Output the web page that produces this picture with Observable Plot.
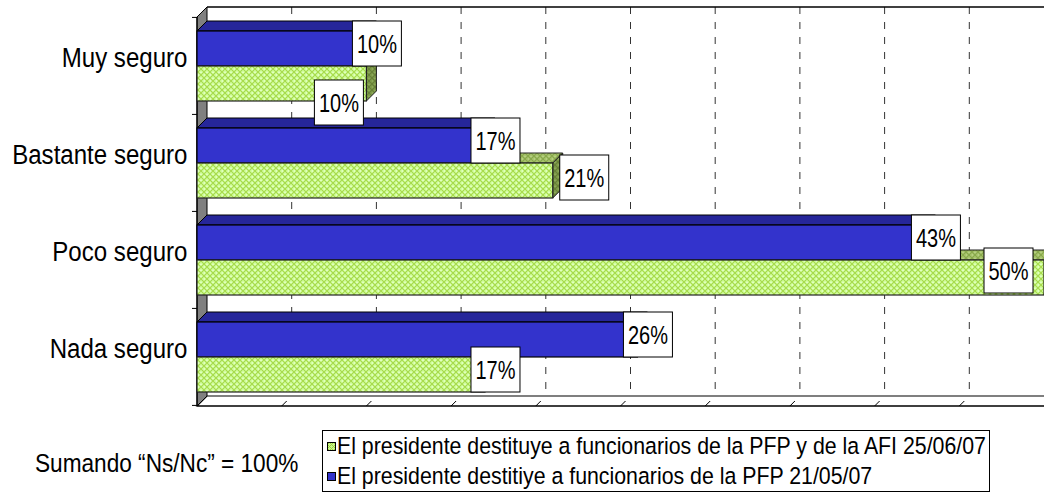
<!DOCTYPE html>
<html>
<head>
<meta charset="utf-8">
<script src="https://cdn.jsdelivr.net/npm/d3@7"></script>
<script src="https://cdn.jsdelivr.net/npm/@observablehq/plot@0.6"></script>
<style>
  body { margin: 0; background: #fff; font-family: Arial, "Liberation Sans", sans-serif; }
  #wrap { position: relative; width: 1044px; height: 496px; overflow: hidden; background: #fff; }
  #chart svg { display: block; }
  #footer { position: relative; width: 1044px; height: 76px; }
  .cond { display: inline-block; white-space: nowrap; transform: scaleX(0.87); transform-origin: 0 50%; }
</style>
</head>
<body>
<div id="wrap">
  <div id="chart"></div>
  <div id="footer"></div>
</div>
<script>
// ---------- data ----------
const categories = ["Muy seguro", "Bastante seguro", "Poco seguro", "Nada seguro"];
const seriesNames = [
  "El presidente destituye a funcionarios de la PFP y de la AFI 25/06/07",
  "El presidente destitiye a funcionarios de la PFP 21/05/07"
];
const valuesJun = [10, 21, 50, 17];   // 25/06/07 (green)
const valuesMay = [10, 17, 43, 26];   // 21/05/07 (blue)
const gridValues = [5, 10, 15, 20, 25, 30, 35, 40, 45, 50];
const noteText = "Sumando \u201CNs/Nc\u201D = 100%";

const mayRows = categories.map((c, i) => ({cat: c, value: valuesMay[i], label: valuesMay[i] + "%"}));
const junRows = categories.map((c, i) => ({cat: c, value: valuesJun[i], label: valuesJun[i] + "%"}));

// ---------- layout ----------
const W = 1044, H = 420;
const mL = 197, mR = 0, mT = 17, mB = 14;
const D = 10;                       // 3D depth offset
const padIn = 0.28, padOut = 0.14;
const STEP = (H - mT - mB) / (categories.length - padIn + 2 * padOut);
const BW = STEP * (1 - padIn);
const HALF = BW / 2;
const COND = 0.86;                  // horizontal condensation of the axis text
const COND_LABEL = 0.8;             // condensation of value labels
const BLUE = "#3333cc", BLUE_TOP = "#26269a", BLUE_SIDE = "#1c1c80";
// label nudges for the green series (Excel placed them individually)
const greenLabelShift = [[-38, 24], [21, 2], [-46, -2], [0, 0]];

function bandwidthOf(y) {
  const b = typeof y.bandwidth === "function" ? y.bandwidth() : y.bandwidth;
  return b == null || isNaN(b) ? BW : b;
}

// walls, floor, grid
function frameMark(index, scales, values, dims) {
  const {x, y} = scales;
  const g = d3.create("svg:g");
  const x0 = x(0), xR = W - mR + 20, yT = mT, yB = H - mB;
  g.append("path")
    .attr("d", `M${x0},${yB}L${x0 + D},${yB - D}L${xR},${yB - D}L${xR},${yB}Z`)
    .attr("fill", "#fff").attr("stroke", "#000").attr("stroke-width", 1.2);
  g.append("path")
    .attr("d", `M${x0},${yT}L${x0 + D},${yT - D}L${x0 + D},${yB - D}L${x0},${yB}Z`)
    .attr("fill", "#808080").attr("stroke", "#000").attr("stroke-width", 1);
  for (const v of gridValues) {
    const gx = x(v) + D;
    g.append("line").attr("x1", gx).attr("x2", gx).attr("y1", yT - D).attr("y2", yB - D)
      .attr("stroke", "#333").attr("stroke-width", 1).attr("stroke-dasharray", "7,8");
    g.append("line").attr("x1", x(v)).attr("x2", x(v) + 5).attr("y1", yB).attr("y2", yB - 5)
      .attr("stroke", "#000").attr("stroke-width", 1);
  }
  g.append("line").attr("x1", x0 + D).attr("x2", xR).attr("y1", yT - D).attr("y2", yT - D)
    .attr("stroke", "#000").attr("stroke-width", 1.5);
  const first = y(categories[0]);
  const step = categories.length > 1 ? y(categories[1]) - first : STEP;
  const start = first - padOut * step;
  for (let i = 0; i <= categories.length; i++) {
    const ty = start + i * step;
    g.append("line").attr("x1", x0 - 5).attr("x2", x0).attr("y1", ty).attr("y2", ty)
      .attr("stroke", "#000").attr("stroke-width", 1);
  }
  g.append("line").attr("x1", x0).attr("x2", x0).attr("y1", yT).attr("y2", yB)
    .attr("stroke", "#000").attr("stroke-width", 1.2);
  g.append("line").attr("x1", x0).attr("x2", xR).attr("y1", yB).attr("y2", yB)
    .attr("stroke", "#000").attr("stroke-width", 1.2);
  return g.node();
}

// top and side faces of the 3D bars
function facesMark(rows, lower, topFill, sideFill, stroke) {
  return (index, scales) => {
    const {x, y} = scales;
    const bw = bandwidthOf(y);
    const g = d3.create("svg:g");
    for (const r of rows) {
      const x0 = x(0), x1 = x(r.value);
      const yt = y(r.cat) + (lower ? bw / 2 : 0), yb = yt + bw / 2;
      g.append("path")
        .attr("d", `M${x0},${yt}L${x0 + D},${yt - D}L${x1 + D},${yt - D}L${x1},${yt}Z`)
        .attr("fill", topFill).attr("stroke", stroke).attr("stroke-width", 1);
      g.append("path")
        .attr("d", `M${x1},${yt}L${x1 + D},${yt - D}L${x1 + D},${yb - D}L${x1},${yb}Z`)
        .attr("fill", sideFill).attr("stroke", stroke).attr("stroke-width", 1);
    }
    return g.node();
  };
}

// value label boxes
function labelsMark(index, scales) {
  const {x, y} = scales;
  const bw = bandwidthOf(y);
  const g = d3.create("svg:g");
  const boxW = 49, boxH = 45;
  const draw = (r, lower, shift) => {
    const x1 = x(r.value);
    const yt = y(r.cat) + (lower ? bw / 2 : 0);
    const left = x1 - 14 + shift[0], top = yt - D + shift[1];
    g.append("rect").attr("x", left).attr("y", top).attr("width", boxW).attr("height", boxH)
      .attr("fill", "#fff").attr("stroke", "#000").attr("stroke-width", 1);
    g.append("text")
      .attr("transform", `translate(${left + boxW / 2},${top + boxH / 2}) scale(${COND_LABEL},1)`)
      .attr("text-anchor", "middle").attr("dy", "0.36em")
      .attr("font-size", 25).attr("fill", "#000")
      .text(r.label);
  };
  mayRows.forEach(r => draw(r, false, [0, 0]));
  junRows.forEach((r, i) => draw(r, true, greenLabelShift[i]));
  return g.node();
}

const plot = Plot.plot({
  width: W, height: H,
  marginLeft: mL, marginRight: mR, marginTop: mT, marginBottom: mB,
  style: {fontFamily: "Arial, 'Liberation Sans', sans-serif", background: "#fff", overflow: "visible"},
  x: {domain: [0, 50], axis: null},
  y: {domain: categories, paddingInner: padIn, paddingOuter: padOut, axis: null},
  marks: [
    frameMark,
    facesMark(junRows, true, "url(#gTop)", "url(#gSide)", "#222"),
    facesMark(mayRows, false, BLUE_TOP, BLUE_SIDE, "#000"),
    Plot.barX(mayRows, {x: "value", y: "cat", insetBottom: HALF, fill: BLUE, stroke: "#000", strokeWidth: 1.2}),
    Plot.barX(junRows, {x: "value", y: "cat", insetTop: HALF, fill: "url(#gFront)", stroke: "#222", strokeWidth: 1.2}),
    labelsMark,
    Plot.text(categories, {y: d => d, frameAnchor: "left", dx: -10, textAnchor: "end", fontSize: 28, fill: "#000"})
  ]
});

const defs = d3.select(plot).insert("defs", ":first-child");
function pattern(id, bg, line, dot) {
  const p = defs.append("pattern").attr("id", id).attr("width", 6).attr("height", 6)
    .attr("patternUnits", "userSpaceOnUse");
  p.append("rect").attr("width", 6).attr("height", 6).attr("fill", bg);
  p.append("path").attr("d", "M0,0L6,6M6,0L0,6").attr("stroke", line).attr("stroke-width", 1.1);
  p.append("rect").attr("x", 2.5).attr("y", 0).attr("width", 1).attr("height", 1).attr("fill", dot);
  p.append("rect").attr("x", 0).attr("y", 2.5).attr("width", 1).attr("height", 1).attr("fill", dot);
}
pattern("gFront", "#d2ffa0", "#a6d94a", "#f0ffe0");
pattern("gTop", "#a9c56e", "#87a84a", "#c4dc96");
pattern("gSide", "#7f9c4a", "#667f36", "#98b566");

document.getElementById("chart").appendChild(plot);

plot.querySelectorAll('g[aria-label="text"] text').forEach(t => {
  let tr = t.getAttribute("transform") || "";
  if (t.hasAttribute("x") || t.hasAttribute("y")) {
    const xx = +t.getAttribute("x") || 0, yy = +t.getAttribute("y") || 0;
    t.removeAttribute("x"); t.removeAttribute("y");
    tr += ` translate(${xx},${yy})`;
  }
  t.setAttribute("transform", tr + ` scale(${COND},1)`);
});

// ---------- footer: note + legend ----------
const footer = d3.select("#footer");
footer.append("div")
  .style("position", "absolute").style("left", "35px").style("top", "28px")
  .style("font-size", "26px").style("line-height", "30px").style("color", "#000")
  .append("span").attr("class", "cond").text(noteText);

const legend = footer.append("div")
  .style("position", "absolute").style("left", "322px").style("top", "10px")
  .style("width", "666px").style("height", "60px")
  .style("border", "1px solid #000").style("background", "#fff");

const swatches = [
  {bg: "#c8f58c", border: "#000", inner: "#9fd23c"},
  {bg: BLUE, border: "#000", inner: null}
];
seriesNames.forEach((name, i) => {
  const row = legend.append("div")
    .style("position", "relative").style("height", "30px").style("line-height", "30px");
  const sw = row.append("div")
    .style("position", "absolute").style("left", "4px").style("top", "11px")
    .style("width", "7px").style("height", "7px")
    .style("border", "1px solid " + swatches[i].border)
    .style("background", swatches[i].bg);
  if (swatches[i].inner) {
    sw.style("background-image",
      `repeating-linear-gradient(45deg, ${swatches[i].inner} 0 1px, transparent 1px 3px), repeating-linear-gradient(-45deg, ${swatches[i].inner} 0 1px, transparent 1px 3px)`);
  }
  row.append("div")
    .style("position", "absolute").style("left", "14px").style("top", "0px")
    .style("font-size", "24.5px").style("color", "#000")
    .append("span").attr("class", "cond").text(name);
});
</script>
</body>
</html>
